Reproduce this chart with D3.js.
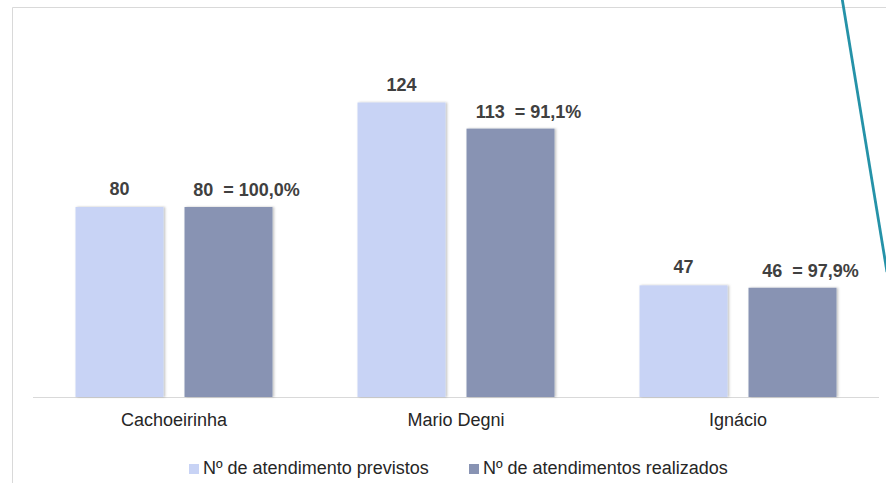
<!DOCTYPE html>
<html>
<head>
<meta charset="utf-8">
<script src="https://cdn.jsdelivr.net/npm/d3@7"></script>
<style>
  html, body { margin: 0; padding: 0; background: #fff; }
  svg { display: block; font-family: "Liberation Sans", Arial, sans-serif; }
</style>
</head>
<body>
<svg id="chart" width="886" height="483"></svg>
<script>
const categories = ["Cachoeirinha", "Mario Degni", "Ignácio"];
const seriesNames = ["Nº de atendimento previstos", "Nº de atendimentos realizados"];
const previstos = [80, 124, 47];
const realizados = [80, 113, 46];
const percentLabels = ["100,0%", "91,1%", "97,9%"];
const colors = ["#c8d3f5", "#8893b3"];

const svg = d3.select("#chart");
const W = 886, H = 483;
const plotBottom = 397;

// frame
svg.append("line").attr("x1", 12.5).attr("y1", 7.5).attr("x2", W).attr("y2", 7.5)
  .attr("stroke", "#d9d9d9").attr("stroke-width", 1);
svg.append("line").attr("x1", 12.5).attr("y1", 7.5).attr("x2", 12.5).attr("y2", H)
  .attr("stroke", "#d9d9d9").attr("stroke-width", 1);

const defs = svg.append("defs");
const f = defs.append("filter").attr("id", "shadow").attr("x", "-10%").attr("y", "-10%").attr("width", "130%").attr("height", "120%");
f.append("feDropShadow").attr("dx", 1.5).attr("dy", 0).attr("stdDeviation", 1.2)
  .attr("flood-color", "#000").attr("flood-opacity", 0.25);

const x0 = d3.scaleBand().domain(categories).range([33, 879]).paddingInner(0).paddingOuter(0);
const x1 = d3.scaleBand().domain([0, 1]).range([42.5, 282 - 42.5]).paddingInner(21 / 197 * 2 / (1 + 21/197)).paddingOuter(0);
const y = d3.scaleLinear().domain([0, 80]).range([plotBottom, 207]);

// baseline
svg.append("line").attr("x1", 33).attr("x2", 879).attr("y1", plotBottom + 0.5).attr("y2", plotBottom + 0.5)
  .attr("stroke", "#d9d9d9").attr("stroke-width", 1);

const data = categories.map((c, i) => ({ c, vals: [previstos[i], realizados[i]], pct: percentLabels[i] }));

const g = svg.append("g");
const groups = g.selectAll("g.cat").data(data).join("g")
  .attr("transform", d => `translate(${x0(d.c)},0)`);

groups.selectAll("rect").data(d => d.vals.map((v, j) => ({ v, j }))).join("rect")
  .attr("x", d => x1(d.j))
  .attr("width", x1.bandwidth())
  .attr("y", d => y(d.v))
  .attr("height", d => plotBottom - y(d.v))
  .attr("fill", d => colors[d.j])
  .attr("filter", "url(#shadow)");

// value labels
groups.append("text")
  .attr("x", x1(0) + x1.bandwidth() / 2)
  .attr("y", d => y(d.vals[0]) - 12)
  .attr("text-anchor", "middle")
  .attr("font-size", 18).attr("font-weight", "bold").attr("fill", "#404040")
  .text(d => d.vals[0]);
groups.append("text")
  .attr("x", x1(1) + x1.bandwidth() / 2 + 18)
  .attr("y", d => y(d.vals[1]) - 11)
  .attr("text-anchor", "middle")
  .attr("font-size", 18).attr("font-weight", "bold").attr("fill", "#404040")
  .attr("xml:space", "preserve")
  .text(d => `${d.vals[1]}  = ${d.pct}`);

// category axis labels
svg.append("g").selectAll("text").data(categories).join("text")
  .attr("x", d => x0(d) + x0.bandwidth() / 2)
  .attr("y", 426)
  .attr("text-anchor", "middle")
  .attr("font-size", 18).attr("fill", "#262626")
  .text(d => d);

// legend
const legendX = [189, 469];
const leg = svg.append("g").selectAll("g").data(seriesNames).join("g")
  .attr("transform", (d, i) => `translate(${legendX[i]},0)`);
leg.append("rect").attr("x", 0).attr("y", 464).attr("width", 10).attr("height", 10)
  .attr("fill", (d, i) => colors[i]);
leg.append("text").attr("x", 14).attr("y", 474)
  .attr("font-size", 18).attr("fill", "#262626").text(d => d);

// decorative teal line at right edge
svg.append("line").attr("x1", 842).attr("y1", -2).attr("x2", 887).attr("y2", 272)
  .attr("stroke", "#2592a8").attr("stroke-width", 2.8);
</script>
</body>
</html>
